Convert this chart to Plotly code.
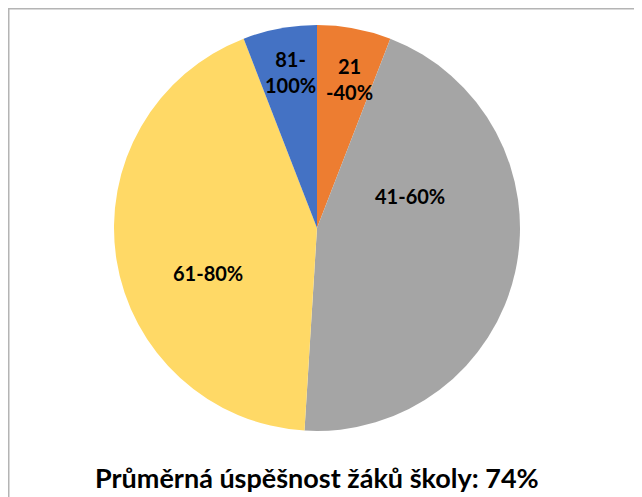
import plotly.graph_objects as go

categories = ["21-40%", "41-60%", "61-80%", "81-100%"]
values = [3, 23, 22, 3]
colors = ["#ED7D31", "#A5A5A5", "#FFD966", "#4472C4"]
label_texts = ["21<br>-40%", "41-60%", "61-80%", "81-<br>100%"]
title_text = "Průměrná úspěšnost žáků školy: 74%"

# figure is placed by the page 8px from top-left
W, H = 634, 489
off = 8
cx, cy, r = 317 - off, 228 - off, 203

fig = go.Figure(go.Pie(
    labels=categories, values=values, sort=False, direction="clockwise",
    rotation=0, marker=dict(colors=colors, line=dict(width=0)),
    textinfo="none", hoverinfo="label+percent", showlegend=False,
    domain=dict(x=[(cx - r) / W, (cx + r) / W], y=[(H - cy - r) / H, (H - cy + r) / H]),
))

label_pos = [(349, 79), (410, 196), (208, 273), (290, 72)]
for t, (px, py) in zip(label_texts, label_pos):
    fig.add_annotation(x=(px - off) / W, y=1 - (py - off) / H, xref="paper", yref="paper", text=t,
                       showarrow=False, font=dict(family="Lato", size=20, color="black", weight="bold"),
                       xanchor="center", yanchor="middle")

fig.add_annotation(x=(317 - off) / W, y=1 - (477 - off) / H, xref="paper", yref="paper", text=title_text,
                   showarrow=False, font=dict(family="Lato", size=27, color="black", weight="bold"),
                   xanchor="center", yanchor="middle")

fig.add_shape(type="rect", xref="paper", yref="paper", x0=0.75 / W, x1=1.05, y0=-0.05, y1=1 - 0.75 / H,
              line=dict(color="#B4B4B4", width=1.5), fillcolor="rgba(0,0,0,0)")

fig.update_layout(width=W, height=H, margin=dict(l=0, r=0, t=0, b=0),
                  paper_bgcolor="white", plot_bgcolor="white")
fig.write_html("out.html")
